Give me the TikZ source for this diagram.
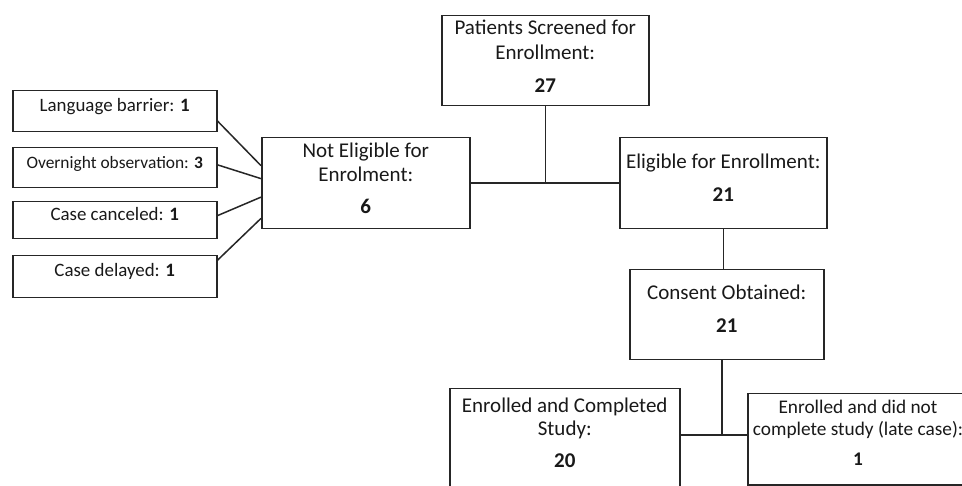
\documentclass[tikz,border=0pt]{standalone}
\usepackage{fontspec}
\setmainfont{Carlito}
\usetikzlibrary{calc}
\newcommand\bigsz{\fontsize{21}{24.2}\selectfont}
\newcommand\latesz{\fontsize{19.3}{22}\selectfont}
\newcommand\smlsz{\fontsize{18.9}{22}\selectfont}
\newcommand\oversz{\fontsize{17.4}{20}\selectfont}
\tikzset{
  box/.style={draw=black!85, line width=1.5pt, inner sep=0pt, anchor=north west},
  sbox/.style={box, minimum width=204pt},
  txt/.style={align=center, inner sep=0pt, font=\bigsz, text=black!90},
  stxt/.style={inner sep=0pt, anchor=base, font=\smlsz, text=black!90},
  conn/.style={draw=black!85, line width=1.5pt}
}
\begin{document}
\begin{tikzpicture}[x=1pt,y=-1pt]
\clip (0,0) rectangle (962,486);
\fill[white] (0,0) rectangle (962,486);
% main boxes
\node[box, minimum width=207pt, minimum height=90pt] (pat) at (441,15) {};
\node[box, minimum width=208pt, minimum height=91pt] (ne) at (261,137) {};
\node[box, minimum width=207pt, minimum height=91pt] (el) at (619,137) {};
\node[box, minimum width=194pt, minimum height=90pt] (cons) at (629,269) {};
\node[box, minimum width=230pt, minimum height=120pt] (enr) at (449,388) {};
\node[box, minimum width=222pt, minimum height=91pt] (late) at (747,393) {};
% main texts
\node[txt] (patt) at (pat.center |- 0,56.4) {Patients Screened for\\Enrollment:\\[9pt]\textbf{27}};
\node[txt] (net) at (ne.center |- 0,178.2) {Not Eligible for\\Enrolment:\\[7.5pt]\textbf{6}};
\node[txt] (elt) at (el.center |- 0,177.4) {Eligible for Enrollment:\\[8.5pt]\textbf{21}};
\node[txt] (const) at (cons.center |- 0,308.8) {Consent Obtained:\\[9pt]\textbf{21}};
\node[txt, font=\fontsize{21}{22.5}\selectfont] (enrt) at (enr.center |- 0,433.2) {Enrolled and Completed\\Study:\\[10pt]\textbf{20}};
\node[txt, font=\latesz] (latet) at (858,432.6) {Enrolled and did not\\complete study (late case):\\[8pt]\textbf{1}};
% left boxes
\node[sbox, minimum height=41pt] (lang) at (12,90) {};
\node[sbox, minimum height=40pt] (over) at (12,147) {};
\node[sbox, minimum height=37pt] (canc) at (12,201) {};
\node[sbox, minimum height=42pt] (del) at (12,255) {};
\node[stxt] (langt) at (lang.center |- 0,112) {Language barrier: \textbf{1}};
\node[stxt, font=\oversz] (overt) at (over.center |- 0,169) {Overnight observation: \textbf{3}};
\node[stxt] (canct) at (canc.center |- 0,221) {Case canceled: \textbf{1}};
\node[stxt] (delt) at (del.center |- 0,277) {Case delayed: \textbf{1}};
% connectors left
\draw[conn] ($(lang.north east)!0.73!(lang.south east)$) -- ($(ne.north west)!0.31!(ne.south west)$);
\draw[conn] ($(over.north east)!0.43!(over.south east)$) -- ($(ne.north west)!0.45!(ne.south west)$);
\draw[conn] ($(canc.north east)!0.38!(canc.south east)$) -- ($(ne.north west)!0.65!(ne.south west)$);
\draw[conn] ($(del.north east)!0.12!(del.south east)$) -- ($(ne.north west)!0.88!(ne.south west)$);
% top junction
\draw[conn] (ne.east) -- (el.west);
\draw[conn] (pat.south) -- (pat.south |- ne.east);
% eligible to consent
\draw[conn] (el.south) -- (el.south |- cons.north);
% bottom junction
\coordinate (jb) at (722,435);
\draw[conn] (cons.south -| jb) -- (jb);
\draw[conn] (enr.east |- jb) -- (late.west |- jb);
\end{tikzpicture}
\end{document}
